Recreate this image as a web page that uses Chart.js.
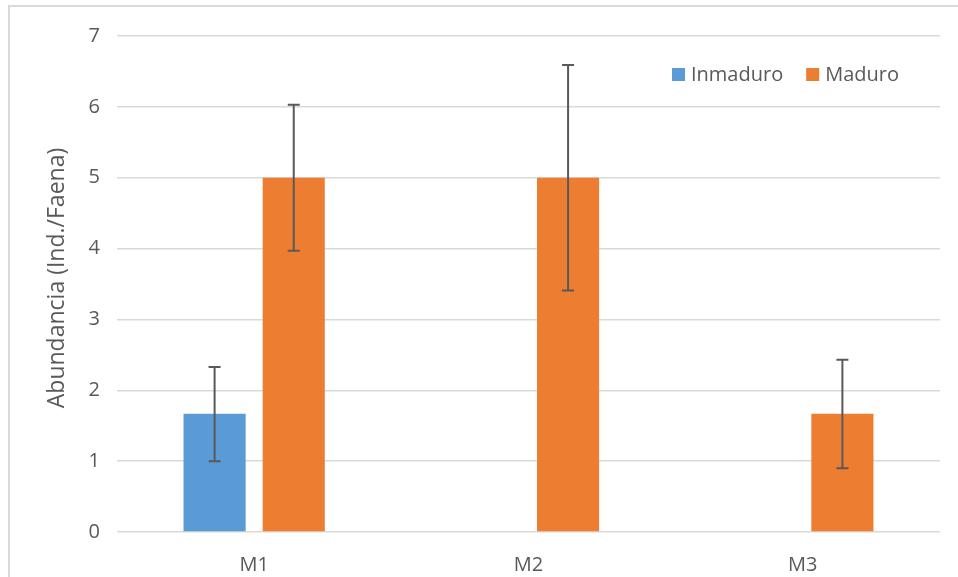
<!DOCTYPE html>
<html>
<head>
<meta charset="utf-8">
<script src="https://cdn.jsdelivr.net/npm/chart.js@4.4.1/dist/chart.umd.min.js"></script>
<style>
  html, body { margin: 0; padding: 0; background: #fff; }
  #wrap { width: 958px; height: 577px; position: relative; }
</style>
</head>
<body>
<div id="wrap"><canvas id="chart" width="958" height="577"></canvas></div>
<script>
// ================= DATA =================
const categories = ["M1", "M2", "M3"];
const seriesNames = ["Inmaduro", "Maduro"];
const inmaduro = [1.67, 0, 0];
const maduro = [5, 5, 1.67];
// error bar ends (low / high)
const inmaduroLow = [1.0, null, null];
const inmaduroHigh = [2.33, null, null];
const maduroLow = [3.97, 3.41, 0.90];
const maduroHigh = [6.03, 6.59, 2.43];
const yTicks = [0, 1, 2, 3, 4, 5, 6, 7];
const yTitle = "Abundancia (Ind./Faena)";

const TEXT = "#595959";
const GRID = "#d9d9d9";
const colors = ["#5b9bd5", "#ed7d31"];

Chart.defaults.font.family = '"Open Sans", sans-serif';
Chart.defaults.color = TEXT;

// ================= PLUGINS =================
const frame = {
    id: "frame",
    beforeDraw(chart) {
        const ctx = chart.ctx;
        ctx.save();
        ctx.strokeStyle = GRID;
        ctx.lineWidth = 2;
        ctx.strokeRect(9, 6, 980, 600);
        ctx.restore();
    }
};

const errorBars = {
    id: "errorBars",
    afterDatasetsDraw(chart) {
        const ctx = chart.ctx;
        const y = chart.scales.y;
        const lows = [inmaduroLow, maduroLow];
        const highs = [inmaduroHigh, maduroHigh];
        ctx.save();
        ctx.strokeStyle = TEXT;
        ctx.lineWidth = 2;
        chart.data.datasets.forEach((ds, i) => {
            const meta = chart.getDatasetMeta(i);
            meta.data.forEach((bar, j) => {
                if (lows[i][j] == null) return;
                const x = bar.x;
                const y1 = y.getPixelForValue(lows[i][j]);
                const y2 = y.getPixelForValue(highs[i][j]);
                ctx.beginPath();
                ctx.moveTo(x, y1); ctx.lineTo(x, y2);
                ctx.moveTo(x - 6, y1); ctx.lineTo(x + 6, y1);
                ctx.moveTo(x - 6, y2); ctx.lineTo(x + 6, y2);
                ctx.stroke();
            });
        });
        ctx.restore();
    }
};

// legend (top right, inside plot) + y axis title
const labels = {
    id: "labels",
    afterDraw(chart) {
        const ctx = chart.ctx;
        ctx.save();
        ctx.font = '20px "Open Sans"';
        ctx.textBaseline = "middle";
        let x = 672;
        const yMid = 75;
        seriesNames.forEach((name, i) => {
            ctx.fillStyle = colors[i];
            ctx.fillRect(x, yMid - 7, 13, 13);
            ctx.fillStyle = TEXT;
            ctx.fillText(name, x + 19, yMid);
            x += 19 + ctx.measureText(name).width + 23;
        });

        ctx.translate(57, 278);
        ctx.rotate(-Math.PI / 2);
        ctx.font = '23px "Open Sans"';
        ctx.textAlign = "center";
        ctx.fillText(yTitle, 0, 0);
        ctx.restore();
    }
};

// ================= CHART =================
new Chart(document.getElementById("chart"), {
    type: "bar",
    data: {
        labels: categories,
        datasets: [
            { label: seriesNames[0], data: inmaduro, backgroundColor: colors[0] },
            { label: seriesNames[1], data: maduro, backgroundColor: colors[1] }
        ]
    },
    options: {
        responsive: false,
        animation: false,
        categoryPercentage: 0.577,
        barPercentage: 0.785,
        layout: { padding: { left: 0, top: 36, right: 18, bottom: 0 } },
        plugins: {
            legend: { display: false },
            tooltip: { enabled: false }
        },
        scales: {
            x: {
                grid: { display: false },
                border: { display: false },
                ticks: { font: { size: 20 }, color: TEXT, padding: 13 },
                afterFit: s => { s.height = 45; }
            },
            y: {
                min: 0,
                max: 7,
                afterBuildTicks: s => { s.ticks = yTicks.map(v => ({ value: v })); },
                grid: { color: GRID, lineWidth: 1.5, drawTicks: false },
                border: { display: false },
                ticks: { font: { size: 20 }, color: TEXT, padding: 17 },
                afterFit: s => { s.width = 117; }
            }
        }
    },
    plugins: [frame, errorBars, labels]
});
</script>
</body>
</html>
